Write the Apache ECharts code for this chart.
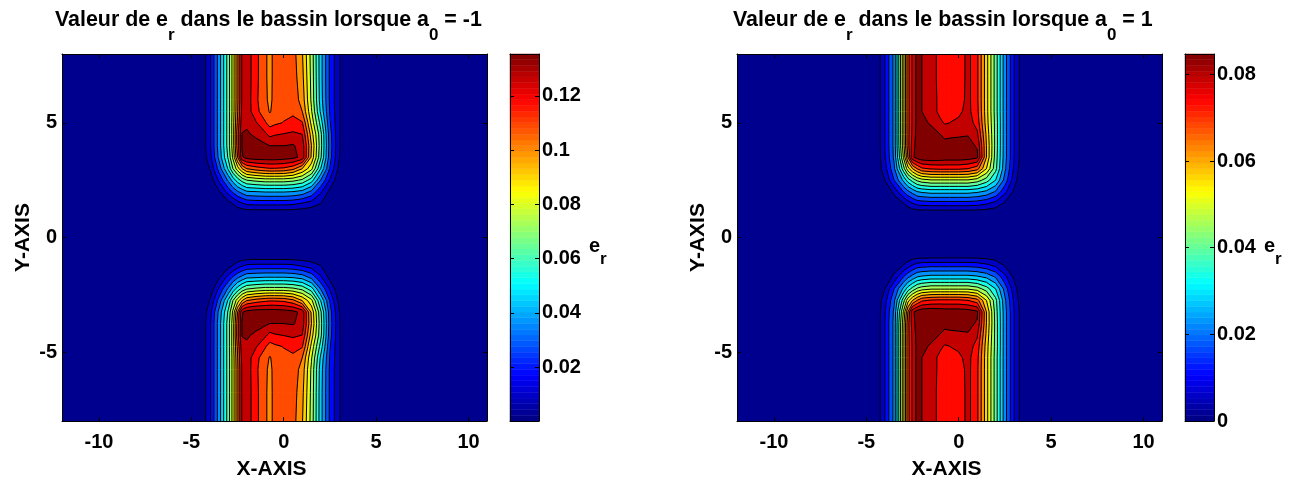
<!DOCTYPE html>
<html><head><meta charset="utf-8">
<script src="https://cdn.jsdelivr.net/npm/echarts@6/dist/echarts.min.js"></script>
<style>html,body{margin:0;padding:0;background:#fff}#c{width:1301px;height:482px}</style>
</head><body><div id="c"></div>
<script>
// Sampled x positions of the value grid
const xNodes = [-4.5,-4,-3.5,-3,-2.75,-2.5,-2.25,-2,-1.5,-1,-0.75,-0.5,0,0.5,1,1.5,2,2.5,3,3.5];
const yUpperNodes = [1,1.5,2,2.5,3,3.5,4,4.5,5,5.5,6,7,8];
const yLowerNodesLeft = [-0.75,-1.25,-1.75,-2.25,-2.75,-3.25,-3.75,-4.25,-4.75,-5.25,-5.75,-6.75,-8];
const yLowerNodesRight = [-0.7,-1.2,-1.72,-2.24,-2.74,-3.24,-3.72,-4.2,-4.74,-5.24,-5.74,-6.74,-8];

// e_r, expressed in contour steps (one step = leftStep / rightStep)
const leftStep = 0.00846;
const rightStep = 0.00529;

const leftUpper = [
[0,0,0,0,0,0,0,0,0,0,0,0,0,0,0,0,0,0,0,0],
[0,0,0,.7,1.1,1.6,2,2.3,2.4,2.4,2.4,2.4,2.4,2.3,2,1.6,1.05,.3,0,0],
[0,0,.9,2.4,3.2,3.9,4.4,4.9,5,5.1,5.1,5.1,5.1,5,4.7,3.8,2.2,.7,0,0],
[0,.3,2.2,4.2,5.4,6.5,7.4,8,8.3,8.5,8.5,8.5,8.5,8.3,7.8,6.5,4,1.9,.2,0],
[0,1.05,3.4,6.2,8,9.5,11,12,12.5,12.8,12.9,12.9,12.8,12.3,11,9.3,6,2.9,.7,0],
[0,1.6,4.3,7.2,9.2,12,14.9,15.4,15.6,15.6,15.6,15.6,15.5,15.3,14.7,10.8,7.2,3.4,1.05,0],
[0,1.8,4.5,7.5,9.5,12.5,15.1,15.6,15.4,15.2,15,15,15,15.1,14.6,11,7.4,3.5,1.1,0],
[0,1.8,4.5,7.5,9.5,12.6,15.05,15.15,14.8,14.2,13.7,13.9,14.05,14.2,14,10.5,7.3,3.4,1.1,0],
[0,1.8,4.5,7.5,9.5,12.2,14.7,14.8,14.1,13.1,12.6,12.8,13.05,13.3,13.1,9.7,6.6,3.1,1.1,0],
[0,1.8,4.5,7.5,9.4,11.9,14.4,14.6,13.3,12.4,11.9,12.4,12.7,12.8,12,9.1,5.8,2.9,1.1,0],
[0,1.8,4.5,7.5,9.4,11.8,14.2,14.6,13.2,12.2,11.75,12.3,12.6,12.6,11.6,8.8,5.5,2.8,1.1,0],
[0,1.8,4.5,7.5,9.4,11.8,14.2,14.6,13.3,12.15,11.7,12.3,12.5,12.5,11.3,8.7,5.4,2.8,1.1,0],
[0,1.8,4.5,7.5,9.4,11.8,14.2,14.6,13.3,12.15,11.7,12.3,12.5,12.4,11.1,8.6,5.4,2.8,1.1,0]
];
const leftLower = [
[0,0,0,0,0,0,0,0,0,0,0,0,0,0,0,0,0,0,0,0],
[0,0,0,.7,1.1,1.6,2,2.3,2.4,2.4,2.4,2.4,2.4,2.3,2,1.6,1.05,.3,0,0],
[0,0,.9,2.4,3.2,3.9,4.4,4.9,5,5.1,5.1,5.1,5.1,5,4.7,3.8,2.2,.7,0,0],
[0,.3,2.2,4.2,5.4,6.5,7.4,8,8.3,8.5,8.5,8.5,8.5,8.3,7.8,6.5,4,1.9,.2,0],
[0,1.05,3.4,6.2,8,9.5,11,12,12.5,12.8,12.9,12.9,12.8,12.3,11,9.3,6,2.9,.7,0],
[0,1.6,4.3,7.2,9.2,12,14.9,15.4,15.6,15.6,15.6,15.6,15.5,15.3,14.7,10.8,7.2,3.4,1.05,0],
[0,1.8,4.5,7.5,9.5,12.5,15.1,15.6,15.4,15.2,15,15,15,15.1,14.6,11,7.4,3.5,1.1,0],
[0,1.8,4.5,7.5,9.5,12.6,15.05,15.15,14.8,14.2,13.7,13.9,14.05,14.2,14,10.5,7.3,3.4,1.1,0],
[0,1.8,4.5,7.5,9.5,12.2,14.7,14.8,14.1,13.1,12.6,12.8,13.05,13.3,13.1,9.7,6.6,3.1,1.1,0],
[0,1.8,4.5,7.5,9.4,11.9,14.4,14.6,13.3,12.4,11.9,12.4,12.7,12.8,12,9.1,5.8,2.9,1.1,0],
[0,1.8,4.5,7.5,9.4,11.8,14.2,14.6,13.2,12.2,11.75,12.3,12.6,12.6,11.6,8.8,5.5,2.8,1.1,0],
[0,1.8,4.5,7.5,9.4,11.8,14.2,14.6,13.3,12.15,11.7,12.3,12.5,12.5,11.3,8.7,5.4,2.8,1.1,0],
[0,1.8,4.5,7.5,9.4,11.8,14.2,14.6,13.3,12.15,11.7,12.3,12.5,12.4,11.1,8.6,5.4,2.8,1.1,0]
];
const rightUpper = [
[0,0,0,0,0,0,0,0,0,0,0,0,0,0,0,0,0,0,0,0],
[0,0,.3,1,1.5,2,2.4,2.5,2.6,2.6,2.6,2.6,2.6,2.6,2.5,2.2,1.7,.85,0,0],
[0,0,1.3,3,3.8,4.4,5,5.2,5.4,5.4,5.4,5.4,5.4,5.4,5.2,4.8,3.9,2.3,.8,0],
[0,1,3,5.2,6.5,7.4,8.2,8.6,8.9,8.9,8.9,8.9,8.9,8.9,8.5,7.5,6,3.6,1.4,0],
[0,1.6,3.8,7.5,9.6,11,12,12.8,13.1,13.2,13.2,13.2,13.2,13,12.4,10,7.3,4.2,1.8,0],
[0,1.9,4.2,9,12,14.8,15.4,15.7,15.8,15.7,15.6,15.6,15.6,15.5,15.2,11,7.5,4.4,2,.2],
[0,2,4.3,9.5,12.6,14.5,15.5,15.7,15.6,15.5,15.4,15.4,15.3,15.3,14.9,11,7.6,4.4,2,.2],
[0,2,4.3,9.6,12.6,14.3,15.4,15.5,15.3,15,14.7,14.8,14.9,14.95,14.2,10.8,7.6,4.4,2,.2],
[0,2,4.3,9.6,12.6,14.2,15.3,15.2,14.9,14.2,13.9,14,14.2,14.5,13.6,10.5,7.6,4.4,2,.2],
[0,2,4.3,9.6,12.6,14.2,15.3,15,14.5,13.7,13.5,13.5,13.8,14.3,13.3,10.4,7.5,4.4,2,.2],
[0,2,4.3,9.6,12.6,14.2,15.3,15,14.5,13.7,13.5,13.4,13.5,14.3,13.2,10.4,7.5,4.4,2,.2],
[0,2,4.3,9.6,12.6,14.2,15.3,15,14.4,13.7,13.5,13.4,13.4,14.3,13.2,10.4,7.5,4.4,2,.2],
[0,2,4.3,9.6,12.6,14.2,15.3,15,14.4,13.7,13.5,13.4,13.4,14.3,13.2,10.4,7.5,4.4,2,.2]
];
const rightLower = [
[0,0,0,0,0,0,0,0,0,0,0,0,0,0,0,0,0,0,0,0],
[0,0,.3,1,1.5,2,2.4,2.5,2.6,2.6,2.6,2.6,2.6,2.6,2.5,2.2,1.7,.85,0,0],
[0,0,1.3,3,3.8,4.4,5,5.2,5.4,5.4,5.4,5.4,5.4,5.4,5.2,4.8,3.9,2.3,.8,0],
[0,1,3,5.2,6.5,7.4,8.2,8.6,8.9,8.9,8.9,8.9,8.9,8.9,8.5,7.5,6,3.6,1.4,0],
[0,1.6,3.8,7.5,9.6,11,12,12.8,13.1,13.2,13.2,13.2,13.2,13,12.4,10,7.3,4.2,1.8,0],
[0,1.9,4.2,9,12,14.8,15.4,15.7,15.8,15.7,15.6,15.6,15.6,15.5,15.2,11,7.5,4.4,2,.2],
[0,2,4.3,9.5,12.6,14.5,15.5,15.7,15.6,15.5,15.4,15.4,15.3,15.3,14.9,11,7.6,4.4,2,.2],
[0,2,4.3,9.6,12.6,14.3,15.4,15.5,15.3,15,14.7,14.8,14.9,14.95,14.2,10.8,7.6,4.4,2,.2],
[0,2,4.3,9.6,12.6,14.2,15.3,15.2,14.9,14.2,13.9,14,14.2,14.5,13.6,10.5,7.6,4.4,2,.2],
[0,2,4.3,9.6,12.6,14.2,15.3,15,14.5,13.7,13.5,13.5,13.8,14.3,13.3,10.4,7.5,4.4,2,.2],
[0,2,4.3,9.6,12.6,14.2,15.3,15,14.5,13.7,13.5,13.4,13.5,14.3,13.2,10.4,7.5,4.4,2,.2],
[0,2,4.3,9.6,12.6,14.2,15.3,15,14.4,13.7,13.5,13.4,13.4,14.3,13.2,10.4,7.5,4.4,2,.2],
[0,2,4.3,9.6,12.6,14.2,15.3,15,14.4,13.7,13.5,13.4,13.4,14.3,13.2,10.4,7.5,4.4,2,.2]
];

const xTicks = [-10,-5,0,5,10];
const yTicks = [-5,0,5];
const leftBarTicks = [0.02,0.04,0.06,0.08,0.1,0.12];
const rightBarTicks = [0,0.02,0.04,0.06,0.08];
const leftBarRange = [0.0001,0.1354];
const rightBarRange = [0,0.0847];
const contourCount = 15;
const colormapSize = 64;

const FONT = '"Liberation Sans", Arial, sans-serif';

function jet(t){
  const seg = v => Math.max(0, Math.min(1, v));
  const r = seg(Math.min(4*t-1.5, 4.5-4*t));
  const g = seg(Math.min(4*t-0.5, 3.5-4*t));
  const b = seg(Math.min(4*t+0.5, 2.5-4*t));
  return 'rgb(' + [r,g,b].map(v => Math.round(v*255)).join(',') + ')';
}

// keep the part of a grid cell at or above a level; returns polygon and crossing pairs
function clipCell(corners, level){
  const poly = [], cross = [];
  for (let i = 0; i < corners.length; i++){
    const a = corners[i], b = corners[(i+1) % corners.length];
    const ain = a[2] >= level, bin = b[2] >= level;
    if (ain) poly.push(a);
    if (ain !== bin){
      const f = (level - a[2]) / (b[2] - a[2]);
      const p = [a[0] + f*(b[0]-a[0]), a[1] + f*(b[1]-a[1]), level];
      poly.push(p); cross.push(p);
    }
  }
  return {poly, cross};
}

function cellsOf(ys, rows, step){
  const cells = [];
  for (let j = 0; j < ys.length-1; j++){
    for (let i = 0; i < xNodes.length-1; i++){
      cells.push([
        [xNodes[i],   ys[j],   rows[j][i]*step],
        [xNodes[i+1], ys[j],   rows[j][i+1]*step],
        [xNodes[i+1], ys[j+1], rows[j+1][i+1]*step],
        [xNodes[i],   ys[j+1], rows[j+1][i]*step]
      ]);
    }
  }
  return cells;
}

function contourSeries(idx, cells, step){
  const levels = [];
  for (let k = 1; k <= contourCount; k++) levels.push([0, 0, k]);
  const fills = {
    type:'custom', xAxisIndex:idx*2, yAxisIndex:idx*2, coordinateSystem:'cartesian2d',
    data:levels, animation:false, silent:true, clip:true, z:2,
    renderItem(params, api){
      const k = params.dataIndex + 1, color = jet(k/contourCount), children = [];
      cells.forEach(c => {
        const {poly} = clipCell(c, k*step);
        if (poly.length > 2) children.push({type:'polygon',
          shape:{points:poly.map(p => api.coord([p[0],p[1]]))},
          style:{fill:color, stroke:color, lineWidth:0.6}});
      });
      return {type:'group', children};
    }
  };
  const lines = {
    type:'custom', xAxisIndex:idx*2, yAxisIndex:idx*2, coordinateSystem:'cartesian2d',
    data:levels, animation:false, silent:true, clip:true, z:3,
    renderItem(params, api){
      const k = params.dataIndex + 1, children = [];
      cells.forEach(c => {
        const {cross} = clipCell(c, k*step);
        for (let i = 0; i+1 < cross.length; i += 2){
          children.push({type:'polyline',
            shape:{points:[api.coord([cross[i][0],cross[i][1]]), api.coord([cross[i+1][0],cross[i+1][1]])]},
            style:{fill:null, stroke:'#000', lineWidth:1}});
        }
      });
      return {type:'group', children};
    }
  };
  return [fills, lines];
}

function barSeries(axisIdx, range){
  const data = [];
  for (let i = 0; i < colormapSize; i++) data.push([0.5, i]);
  return {
    type:'custom', xAxisIndex:axisIdx, yAxisIndex:axisIdx, coordinateSystem:'cartesian2d',
    data, animation:false, silent:true, z:2,
    renderItem(params, api){
      const i = params.dataIndex, span = range[1]-range[0];
      const p0 = api.coord([0, range[0]+span*i/colormapSize]);
      const p1 = api.coord([1, range[0]+span*(i+1)/colormapSize]);
      const c = jet((i+0.5)/colormapSize);
      return {type:'rect', shape:{x:p0[0], y:p1[1], width:p1[0]-p0[0], height:p0[1]-p1[1]},
        style:{fill:c, stroke:c, lineWidth:0.5}};
    }
  };
}

const labelStyle = {color:'#000', fontFamily:FONT, fontWeight:'bold', fontSize:20};
const line = {show:true, onZero:false, lineStyle:{color:'#000', width:1}};

function plotAxes(gridIndex){
  const tick = v => ({show:true, inside:true, length:4, customValues:v, lineStyle:{color:'#000', width:1}});
  const xa = (pos, label) => ({
    type:'value', gridIndex, min:-12, max:11, position:pos, z:6, splitLine:{show:false}, axisLine:line,
    axisTick:tick(xTicks),
    axisLabel: label ? {...labelStyle, customValues:xTicks, margin:11, showMinLabel:true, showMaxLabel:true} : {show:false},
    name: label ? 'X-AXIS' : '', nameLocation:'middle', nameGap:38,
    nameTextStyle:{...labelStyle, fontSize:21, padding:[0,6,0,0]}
  });
  const ya = (pos, label) => ({
    type:'value', gridIndex, min:-8, max:8, position:pos, z:6, splitLine:{show:false}, axisLine:line,
    axisTick:tick(yTicks),
    axisLabel: label ? {...labelStyle, customValues:yTicks, margin:5, padding:[3,0,0,0]} : {show:false},
    name: label ? 'Y-AXIS' : '', nameLocation:'middle', nameGap:28,
    nameTextStyle:{...labelStyle, fontSize:21}
  });
  return {x:[xa('bottom',true), xa('top',false)], y:[ya('left',true), ya('right',false)]};
}

function barAxes(gridIndex, range, ticks){
  const tick = {show:true, inside:true, length:4, customValues:ticks, lineStyle:{color:'#000', width:1}};
  const xa = pos => ({type:'value', gridIndex, min:0, max:1, position:pos, z:6, splitLine:{show:false},
    axisLine:line, axisTick:{show:false}, axisLabel:{show:false}});
  const ya = (pos, label) => ({type:'value', gridIndex, min:range[0], max:range[1], position:pos, z:6,
    splitLine:{show:false}, axisLine:line, axisTick:tick,
    axisLabel: label ? {...labelStyle, customValues:ticks, margin:3, padding:[3,0,0,0], formatter:v => String(+v.toFixed(2))} : {show:false}});
  return {x:[xa('bottom'), xa('top')], y:[ya('right',true), ya('left',false)]};
}

const richTitle = {
  t:{fontFamily:FONT, fontWeight:'bold', fontSize:21.4, color:'#000', lineHeight:22, verticalAlign:'top'},
  s:{fontFamily:FONT, fontWeight:'bold', fontSize:17, color:'#000', lineHeight:34, verticalAlign:'bottom'}
};
const titleText = v => '{t|Valeur de e}{s|r}{t| dans le bassin lorsque a}{s|0}{t| = ' + v + '}';
const richBar = {
  t:{fontFamily:FONT, fontWeight:'bold', fontSize:20, color:'#000', lineHeight:20, verticalAlign:'top'},
  s:{fontFamily:FONT, fontWeight:'bold', fontSize:17, color:'#000', lineHeight:32, verticalAlign:'bottom'}
};

const axesL = plotAxes(0), axesR = plotAxes(1), axesBL = barAxes(2, leftBarRange, leftBarTicks), axesBR = barAxes(3, rightBarRange, rightBarTicks);

// axis order: 0,1 left plot | 2,3 right plot | 4,5 left bar | 6,7 right bar
const leftCells = cellsOf(yUpperNodes, leftUpper, leftStep).concat(cellsOf(yLowerNodesLeft, leftLower, leftStep));
const rightCells = cellsOf(yUpperNodes, rightUpper, rightStep).concat(cellsOf(yLowerNodesRight, rightLower, rightStep));

const option = {
  backgroundColor:'#fff',
  animation:false,
  title:[
    {left:50, top:5, text:titleText('-1'), textStyle:{rich:richTitle}},
    {left:728, top:5, text:titleText('1'), textStyle:{rich:richTitle}}
  ],
  grid:[
    {left:62, top:54, width:425, height:367, show:true, backgroundColor:'rgb(0,0,143)', borderWidth:0, outerBoundsMode:'none'},
    {left:737, top:54, width:425, height:367, show:true, backgroundColor:'rgb(0,0,143)', borderWidth:0, outerBoundsMode:'none'},
    {left:510, top:54, width:29, height:367, outerBoundsMode:'none'},
    {left:1185, top:54, width:29, height:367, outerBoundsMode:'none'}
  ],
  xAxis:[...axesL.x, ...axesR.x, ...axesBL.x, ...axesBR.x],
  yAxis:[...axesL.y, ...axesR.y, ...axesBL.y, ...axesBR.y],
  graphic:[
    {type:'text', left:589, top:236, silent:true, style:{rich:richBar, text:'{t|e}{s|r}'}},
    {type:'text', left:1264, top:236, silent:true, style:{rich:richBar, text:'{t|e}{s|r}'}}
  ],
  series:[
    ...contourSeries(0, leftCells, leftStep),
    ...contourSeries(1, rightCells, rightStep),
    barSeries(4, leftBarRange),
    barSeries(6, rightBarRange)
  ]
};
const chart = echarts.init(document.getElementById('c'), null, {renderer:'canvas'});
chart.setOption(option);
</script>
</body></html>
